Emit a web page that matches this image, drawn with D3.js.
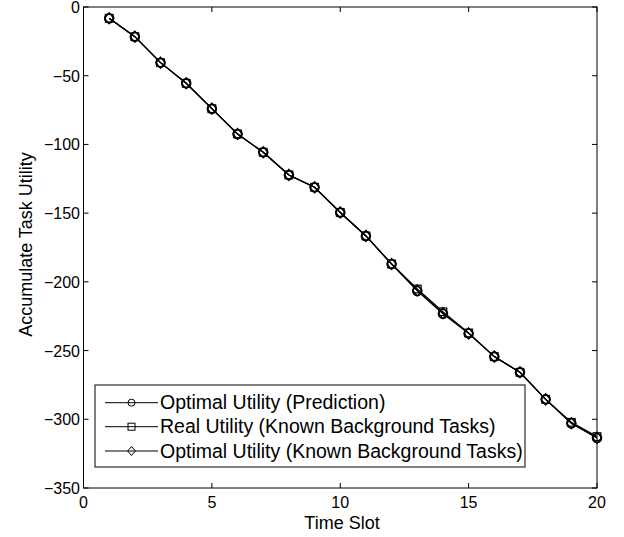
<!DOCTYPE html>
<html><head><meta charset="utf-8">
<script src="https://cdn.jsdelivr.net/npm/d3@7"></script>
<style>body{margin:0;background:#fff}svg{display:block}text{font-family:"Liberation Sans",Arial,sans-serif}</style>
</head><body>
<script>
const slots = [1,2,3,4,5,6,7,8,9,10,11,12,13,14,15,16,17,18,19,20];
const optimalPrediction = [-8.2,-21.6,-40.5,-55.5,-74,-92.4,-105.7,-122.2,-131.2,-149.5,-166.6,-187,-206.6,-223.2,-237.5,-254.4,-265.8,-285.5,-302.9,-313.6];
const realUtility = [-8.2,-21.6,-40.5,-55.5,-74,-92.4,-105.7,-122.2,-131.2,-149.5,-166.6,-187,-205.2,-221.8,-237.2,-254.4,-265.8,-285.5,-302.2,-312.6];
const optimalKnown = [-8.2,-21.6,-40.5,-55.5,-74,-92.4,-105.7,-122.2,-131.2,-149.5,-166.6,-187,-206.2,-222.8,-237.5,-254.4,-265.8,-285.5,-302.9,-313.4];
const seriesNames = ["Optimal Utility (Prediction)","Real Utility (Known Background Tasks)","Optimal Utility (Known Background Tasks)"];
const xTicks = [0,5,10,15,20];
const yTicks = [0,-50,-100,-150,-200,-250,-300,-350];

const W=624,H=537;
const L=83.5,R=597,T=7,B=488;
const svg=d3.select("body").append("svg").attr("width",W).attr("height",H);
const x=d3.scaleLinear().domain([0,20]).range([L,R]);
const y=d3.scaleLinear().domain([-350,0]).range([B,T]);

const g=svg.append("g");
g.append("rect").attr("x",L).attr("y",T).attr("width",R-L).attr("height",B-T).attr("fill","none").attr("stroke","#000").attr("stroke-width",1);
const tl=5;
xTicks.forEach(v=>{
  g.append("line").attr("x1",x(v)).attr("x2",x(v)).attr("y1",B).attr("y2",B-tl).attr("stroke","#000");
  g.append("line").attr("x1",x(v)).attr("x2",x(v)).attr("y1",T).attr("y2",T+tl).attr("stroke","#000");
  g.append("text").attr("x",x(v)).attr("y",B+20).attr("text-anchor","middle").attr("font-size",16).text(v);
});
yTicks.forEach(v=>{
  g.append("line").attr("x1",L).attr("x2",L+tl).attr("y1",y(v)).attr("y2",y(v)).attr("stroke","#000");
  g.append("line").attr("x1",R).attr("x2",R-tl).attr("y1",y(v)).attr("y2",y(v)).attr("stroke","#000");
  g.append("text").attr("x",L-3.5).attr("y",y(v)+6).attr("text-anchor","end").attr("font-size",16).text(v===0?"0":"\u2212"+Math.abs(v));
});
svg.append("text").attr("x",342).attr("y",529).attr("text-anchor","middle").attr("font-size",18).text("Time Slot");
svg.append("text").attr("transform",`translate(32,244.5) rotate(-90)`).attr("text-anchor","middle").attr("font-size",18).text("Accumulate Task Utility");

const line=d3.line().x((d,i)=>x(slots[i])).y(d=>y(d));
function marker(sel,type,cx,cy,s){
  if(type==="circle") sel.append("circle").attr("cx",cx).attr("cy",cy).attr("r",s).attr("fill","none").attr("stroke","#000").attr("stroke-width",1.5);
  else if(type==="square") sel.append("rect").attr("x",cx-s*0.85).attr("y",cy-s*0.85).attr("width",s*1.7).attr("height",s*1.7).attr("fill","none").attr("stroke","#000").attr("stroke-width",1.2);
  else sel.append("path").attr("d",`M${cx},${cy-s*1.25}L${cx+s},${cy}L${cx},${cy+s*1.25}L${cx-s},${cy}Z`).attr("fill","none").attr("stroke","#000").attr("stroke-width",1.2);
}
const data=[[optimalPrediction,"circle"],[realUtility,"square"],[optimalKnown,"diamond"]];
data.forEach(([vals,type])=>{
  svg.append("path").attr("d",line(vals)).attr("fill","none").attr("stroke","#000").attr("stroke-width",1.2);
});
data.forEach(([vals,type])=>{
  const mg=svg.append("g");
  vals.forEach((v,i)=>marker(mg,type,x(slots[i]),y(v),4.5));
});

const lg=svg.append("g");
lg.append("rect").attr("x",95).attr("y",385).attr("width",430).attr("height",82).attr("fill","#fff").attr("stroke","#000").attr("stroke-width",1);
const ly=[402.7,426.7,451];
const types=["circle","square","diamond"];
seriesNames.forEach((n,i)=>{
  lg.append("line").attr("x1",105).attr("x2",158).attr("y1",ly[i]).attr("y2",ly[i]).attr("stroke","#000").attr("stroke-width",1);
  const s=3.5;
  if(types[i]==="circle") lg.append("circle").attr("cx",131.5).attr("cy",ly[i]).attr("r",s).attr("fill","none").attr("stroke","#000");
  else if(types[i]==="square") lg.append("rect").attr("x",131.5-s).attr("y",ly[i]-s).attr("width",2*s).attr("height",2*s).attr("fill","none").attr("stroke","#000");
  else lg.append("path").attr("d",`M131.5,${ly[i]-s*1.3}L${131.5+s*1.1},${ly[i]}L131.5,${ly[i]+s*1.3}L${131.5-s*1.1},${ly[i]}Z`).attr("fill","none").attr("stroke","#000");
  lg.append("text").attr("x",160).attr("y",ly[i]+6.5).attr("font-size",19.5).text(n);
});
</script>
</body></html>
